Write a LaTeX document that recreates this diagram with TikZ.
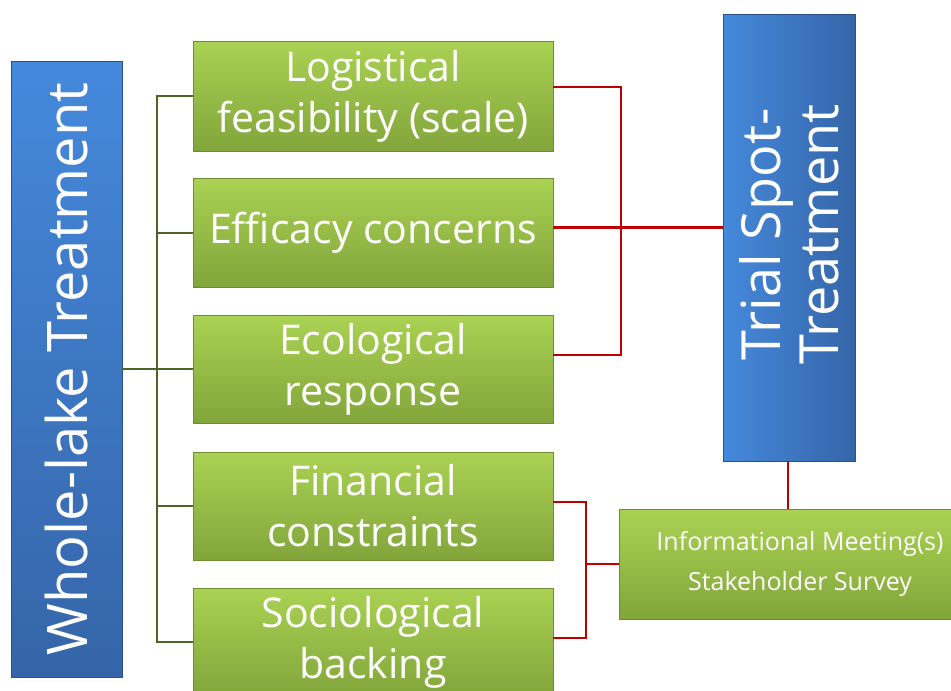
\documentclass[tikz,border=0pt]{standalone}
\usepackage{fontspec}
\setmainfont{Open Sans}
\usepackage{tikz}
\usetikzlibrary{positioning}

\definecolor{bluetop}{HTML}{4589DC}
\definecolor{bluebot}{HTML}{3565A8}
\definecolor{greentop}{HTML}{AAD253}
\definecolor{greenbot}{HTML}{82A53B}
\definecolor{greenedge}{HTML}{6E8C30}
\definecolor{trunkcol}{HTML}{4F6228}
\definecolor{redline}{HTML}{C00000}

\begin{document}
\begin{tikzpicture}[x=1pt,y=-1pt,
bluebox/.style={rectangle,draw=bluebot!80!black,line width=.6pt,inner sep=0pt,outer sep=0pt,text=white},
greenbox/.style={rectangle,draw=greenedge,line width=.6pt,top color=greentop,bottom color=greenbot,
    inner sep=0pt,outer sep=0pt,minimum width=360pt,text=white,align=center,
    font=\fontsize{41}{51}\selectfont},
trunk/.style={draw=trunkcol,line width=2pt},
link/.style={draw=redline,line width=2.6pt}]
\useasboundingbox (0,0) rectangle (951,691);
\clip (0,0) rectangle (951,691);

% left and right headers
\node (lake) [bluebox,top color=bluetop,bottom color=bluebot,anchor=north west,
    minimum width=111pt,minimum height=616pt] at (11,61) {};
\node [rotate=90,text=white,font=\fontsize{56}{60}\selectfont] at (lake.center) {Whole-lake Treatment};

\node (spot) [bluebox,left color=bluetop,right color=bluebot,anchor=north west,
    minimum width=132pt,minimum height=447pt] at (723,14) {};
\node [rotate=90,text=white,align=center,font=\fontsize{54}{58}\selectfont] at ([yshift=3pt]spot.center) {Trial Spot-\\Treatment};

% factors
\node (logi) [greenbox,anchor=north west,minimum height=110pt] at (193,41) {Logistical\\feasibility (scale)};
\node (effi) [greenbox,anchor=north west,minimum height=109pt] at (193,178) {Efficacy concerns};
\node (ecol) [greenbox,anchor=north west,minimum height=108pt] at (193,315) {Ecological\\response};
\node (fina) [greenbox,anchor=north west,minimum height=108pt] at (193,452) {Financial\\constraints};
\node (soci) [greenbox,anchor=north west,minimum height=108pt] at (193,588) {Sociological\\backing};

\node (info) [greenbox,anchor=north west,minimum width=362pt,minimum height=110pt,
    font=\fontsize{25}{40}\selectfont] at (619,509) {Informational Meeting(s)\\Stakeholder Survey};

% whole-lake tree
\coordinate (stem) at (157,0);
\draw[trunk] (lake.east |- ecol.west) -- (ecol.west);
\draw[trunk] (logi.west) -- (stem |- logi.west) -- (stem |- soci.west) -- (soci.west);
\draw[trunk] (stem |- effi.west) -- (effi.west);
\draw[trunk] (stem |- fina.west) -- (fina.west);

% spot-treatment links
\coordinate (logiR) at ([yshift=9pt]logi.east);
\coordinate (effiR) at ([yshift=5pt]effi.east);
\coordinate (ecolR) at ([yshift=14pt]ecol.east);
\coordinate (finaR) at ([yshift=4pt]fina.east);
\coordinate (sociR) at ([yshift=4pt]soci.east);
\coordinate (rjoin) at (621,0);
\coordinate (ljoin) at (586,0);
\coordinate (drop) at (788,0);
\draw[link] (logiR) -- (rjoin |- logiR) -- (rjoin |- ecolR) -- (ecolR);
\draw[link] (effiR) -- (effiR -| spot.west);
\draw[link] (drop |- spot.south) -- (drop |- info.north);
\draw[link] (finaR) -- (ljoin |- finaR) -- (ljoin |- sociR) -- (sociR);
\draw[link] (ljoin |- info.west) -- (info.west);
\end{tikzpicture}
\end{document}
